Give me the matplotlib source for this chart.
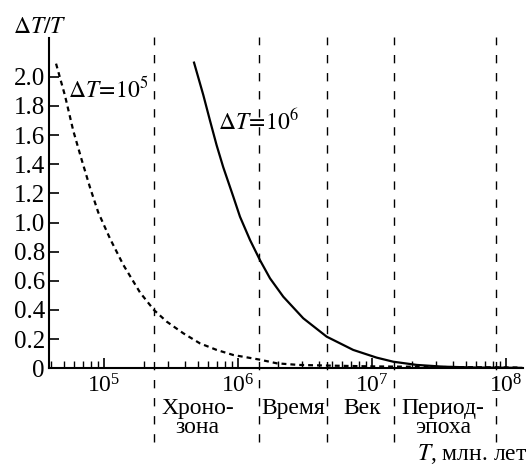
import numpy as np
import matplotlib.pyplot as plt

# ----- DATA -----

# Dashed curve, dT = 1e5
t_short = [4.39e4, 5.12e4, 5.90e4, 6.82e4, 7.87e4, 9.06e4, 1.109e5, 1.393e5,
           1.858e5, 2.36e5, 2.94e5, 3.91e5, 5.2e5, 6.93e5, 9.23e5,
           1.44e6, 1.95e6, 2.83e6, 5.0e6, 1.0e7, 3.0e7, 1.0e8, 1.3e8]
r_short = [2.09, 1.87, 1.63, 1.43, 1.24, 1.07, 0.89, 0.71,
           0.52, 0.40, 0.32, 0.24, 0.171, 0.126, 0.091,
           0.060, 0.034, 0.023, 0.018, 0.013, 0.009, 0.006, 0.005]

# Solid curve, dT = 1e6
t_long = [4.70e5, 5.51e5, 6.18e5, 6.93e5, 7.76e5, 9.23e5, 1.035e6, 1.23e6,
          1.459e6, 1.734e6, 2.178e6, 3.07e6, 4.59e6, 7.24e6, 1.084e7,
          1.442e7, 2.16e7, 3.40e7, 6.0e7, 1.3e8]
r_long = [2.097, 1.875, 1.70, 1.53, 1.38, 1.177, 1.04, 0.88,
          0.742, 0.617, 0.491, 0.343, 0.217, 0.126, 0.073,
          0.045, 0.023, 0.011, 0.005, 0.003]

# Boundaries between the time units
bounds = [2.36e5, 1.44e6, 4.6e6, 1.46e7, 8.4e7]

# Unit names and where they sit
units = ["Хроно-\nзона", "Время", "Век", "Период-\nэпоха"]
unit_x = [5.0e5, 2.6e6, 8.4e6, 3.4e7]

y_ticks = [0, 0.2, 0.4, 0.6, 0.8, 1.0, 1.2, 1.4, 1.6, 1.8, 2.0]

# ----- PLOT -----

plt.rcParams['font.family'] = ['Liberation Serif', 'DejaVu Serif']
plt.rcParams['mathtext.fontset'] = 'stix'
fs = 17

fig = plt.figure(figsize=(5.31, 4.65), dpi=100)
ax = fig.add_axes([0.0923, 0.208, 0.8927, 0.710])

ax.plot(t_short, r_short, color="black", linewidth=1.6, linestyle=(0, (2.2, 1.8)))
ax.plot(t_long, r_long, color="black", linewidth=1.6)

ax.vlines(bounds, -0.505, 2.27, colors="black", linewidth=1.0,
          linestyles=(0, (6, 7)), clip_on=False)

ax.set_xscale("log")
ax.set_xlim(3.89e4, 1.34e8)
ax.set_ylim(0, 2.265)

ax.set_yticks(y_ticks)
ax.set_yticklabels(["0" if v == 0 else f"{v:.1f}" for v in y_ticks])
ax.set_xticks([1e5, 1e6, 1e7, 1e8])

ax.tick_params(axis="both", which="major", direction="in", length=7, width=1.2,
               labelsize=fs, pad=4)
ax.tick_params(axis="y", labelsize=18, pad=3)
ax.tick_params(axis="x", which="minor", direction="in", length=5, width=1.0)

for s in ["top", "right"]:
    ax.spines[s].set_visible(False)
for s in ["left", "bottom"]:
    ax.spines[s].set_linewidth(1.5)

# Curve labels
ax.text(5.38e4, 1.86, r"$\Delta T\!=\!10^5$", fontsize=fs, va="baseline")
ax.text(7.1e5, 1.635, r"$\Delta T\!=\!10^6$", fontsize=fs, va="baseline")

# Unit names under the axis
for name, x in zip(units, unit_x):
    ax.text(x, -0.205, name, fontsize=fs, ha="center", va="top",
            linespacing=0.85, clip_on=False)

fig.text(13 / 531, 1 - 33 / 465, r"$\Delta T/T$", fontsize=fs, va="baseline")
fig.text(527 / 531, 1 - 460 / 465, r"$T$, млн. лет", fontsize=fs,
         ha="right", va="baseline")

fig.savefig("out.png", dpi=100)
